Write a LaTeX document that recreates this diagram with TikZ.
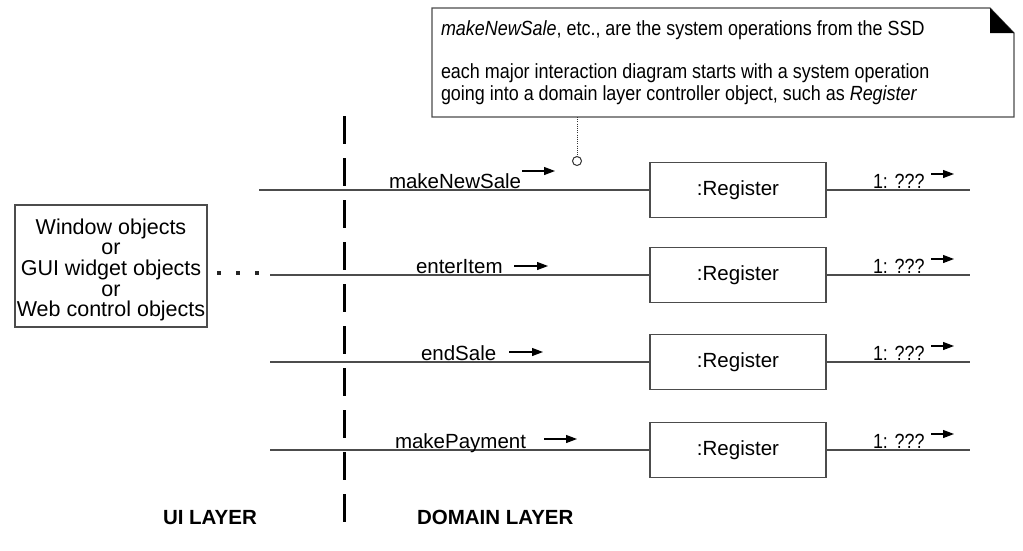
\documentclass[tikz,border=0pt]{standalone}
\usepackage{fontspec}
\usepackage{graphicx}
\setmainfont{Liberation Sans}
\usetikzlibrary{arrows.meta}
\newcommand{\narrowtxt}[1]{\scalebox{0.875}[1]{#1}}
\begin{document}
\begin{tikzpicture}[x=1pt,y=-1pt,
  every node/.style={font=\fontsize{20.5}{20.5}\selectfont, inner sep=0pt, outer sep=0pt},
  wire/.style={draw=black!70, line width=1.3pt},
  regbox/.style={draw=black!70, line width=1.3pt, minimum width=176pt, minimum height=55pt, fill=white},
  uibox/.style={draw=black!70, line width=1.3pt, minimum width=192pt, minimum height=122pt},
  uitext/.style={align=center, font=\fontsize{21.5}{20.6}\selectfont},
  lbl/.style={anchor=base west},
  seq/.style={anchor=base west},
  msg/.style={draw=black, line width=1.2pt, -{Triangle[length=11pt,width=8pt]}},
  layer/.style={anchor=base west, font=\fontsize{20.5}{20.5}\selectfont\bfseries},
  dotsq/.style={fill=black!85, minimum size=4.5pt},
  notebox/.style={minimum width=582pt, minimum height=109pt},
  notetext/.style={anchor=base west},
  pinstyle/.style={circle, draw=black!80, line width=1pt, minimum size=9pt, fill=white},
  divider/.style={draw=black, line width=3pt, dash pattern=on 28pt off 14pt}
]
\useasboundingbox (0,0) rectangle (1023,550);
\fill[white] (0,0) rectangle (1023,550);

% note
\node[notebox] (note) at (723,62.5) {};
\draw[draw=black!70, line width=1.2pt]
  (note.south west) -- (note.north west) -- ([xshift=-24pt]note.north east)
  -- ([yshift=-25pt]note.north east) -- (note.south east) -- cycle;
\fill[black] ([xshift=-24pt]note.north east) -- ([xshift=-24pt,yshift=-25pt]note.north east)
  -- ([yshift=-25pt]note.north east) -- cycle;
\node[notetext] (n1) at (441,35) {\narrowtxt{\textit{makeNewSale}, etc., are the system operations from the SSD}};
\node[notetext] (n2) at (441,78) {\narrowtxt{each major interaction diagram starts with a system operation}};
\node[notetext] (n3) at (441,100) {\narrowtxt{going into a domain layer controller object, such as \textit{Register}}};
\node[pinstyle] (pin) at (577,161) {};
\draw[draw=black!80, line width=1pt, dash pattern=on 1pt off 1.2pt] (pin |- note.south) -- (pin.north);

% divider
\coordinate (dtop) at (344,116);
\coordinate (dbot) at (344,522);
\draw[divider] (dtop) -- (dbot);

% UI box
\node[uibox] (ui) at (111,266) {};
\node[uitext] (uitxt) at (111,270) {Window objects\\or\\GUI widget objects\\or\\Web control objects};
\node[dotsq] (d1) at (219,273) {};
\node[dotsq] (d2) at (238,273) {};
\node[dotsq] (d3) at (257,273) {};

% registers
\node[regbox] (r1) at (738,190) {:Register};
\node[regbox] (r2) at (738,275) {:Register};
\node[regbox] (r3) at (738,362) {:Register};
\node[regbox] (r4) at (738,450) {:Register};

\coordinate (s1) at (259,190); \coordinate (e1) at (970,190);
\coordinate (s2) at (270,275); \coordinate (e2) at (970,275);
\coordinate (s3) at (270,362); \coordinate (e3) at (970,362);
\coordinate (s4) at (270,450); \coordinate (e4) at (970,450);
\draw[wire] (s1) -- (r1); \draw[wire] (r1) -- (e1);
\draw[wire] (s2) -- (r2); \draw[wire] (r2) -- (e2);
\draw[wire] (s3) -- (r3); \draw[wire] (r3) -- (e3);
\draw[wire] (s4) -- (r4); \draw[wire] (r4) -- (e4);

% message labels
\node[lbl] (m1) at (389,188) {makeNewSale};
\node[lbl] (m2) at (416,273) {enterItem};
\node[lbl] (m3) at (421,360) {endSale};
\node[lbl] (m4) at (395,448) {makePayment};
\coordinate (a1s) at (522,171); \coordinate (a1e) at (555,171);
\coordinate (a2s) at (514,266); \coordinate (a2e) at (548,266);
\coordinate (a3s) at (509,352); \coordinate (a3e) at (543,352);
\coordinate (a4s) at (544,439); \coordinate (a4e) at (577,439);
\draw[msg] (a1s) -- (a1e);
\draw[msg] (a2s) -- (a2e);
\draw[msg] (a3s) -- (a3e);
\draw[msg] (a4s) -- (a4e);

% outgoing labels
\node[seq] (q1) at (873,188) {\narrowtxt{1: ???}};
\node[seq] (q2) at (873,273) {\narrowtxt{1: ???}};
\node[seq] (q3) at (873,360) {\narrowtxt{1: ???}};
\node[seq] (q4) at (873,448) {\narrowtxt{1: ???}};
\coordinate (b1s) at (931,174); \coordinate (b1e) at (954,174);
\coordinate (b2s) at (931,259); \coordinate (b2e) at (954,259);
\coordinate (b3s) at (931,346); \coordinate (b3e) at (954,346);
\coordinate (b4s) at (931,434); \coordinate (b4e) at (954,434);
\draw[msg] (b1s) -- (b1e);
\draw[msg] (b2s) -- (b2e);
\draw[msg] (b3s) -- (b3e);
\draw[msg] (b4s) -- (b4e);

% layer labels
\node[layer] (uil) at (163,524) {UI LAYER};
\node[layer] (dol) at (417,524) {DOMAIN LAYER};
\end{tikzpicture}
\end{document}
